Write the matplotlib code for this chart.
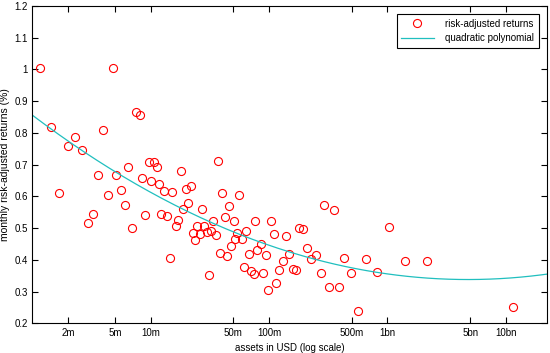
import numpy as np
import matplotlib
matplotlib.use('Agg')
import matplotlib.pyplot as plt

plt.rcParams['font.family'] = ['Liberation Sans', 'DejaVu Sans']

# log10 of assets in USD
log_assets = [6.065, 6.684, 6.874, 6.908, 6.156, 6.600, 6.359, 6.302, 6.422, 6.987,
              7.026, 7.052, 6.809, 6.555, 6.709, 6.930, 7.003, 7.069, 6.228, 6.746,
              6.637, 6.779, 6.509, 6.955, 7.088, 6.473, 6.843, 7.115, 7.141, 7.167,
              7.183, 7.211, 7.232, 7.253, 7.274, 7.295, 7.312, 7.339, 7.356, 7.378,
              7.395, 7.433, 7.567, 7.605, 7.750, 7.661, 7.530, 7.625, 7.701, 7.885,
              8.014, 7.453, 7.413, 7.475, 7.512, 7.549, 7.733, 7.809, 8.039, 7.714,
              7.773, 7.929, 7.680, 7.902, 7.828, 7.976, 7.587, 7.643, 7.792, 7.845,
              7.870, 7.950, 7.489, 8.088, 8.062, 7.994, 8.468, 8.552, 8.139, 8.254,
              8.288, 8.324, 8.172, 8.394, 8.358, 8.637, 8.821, 8.116, 8.198, 8.229,
              8.435, 8.694, 8.911, 8.510, 8.594, 8.750, 9.015, 9.145, 9.331, 10.061]
# monthly risk-adjusted returns (%)
returns = [1.006, 1.006, 0.866, 0.858, 0.820, 0.808, 0.787, 0.758, 0.747, 0.710,
           0.708, 0.692, 0.692, 0.667, 0.667, 0.657, 0.650, 0.639, 0.611, 0.619,
           0.604, 0.572, 0.545, 0.542, 0.546, 0.516, 0.501, 0.617, 0.538, 0.405,
           0.614, 0.508, 0.527, 0.679, 0.559, 0.624, 0.579, 0.634, 0.486, 0.463,
           0.508, 0.559, 0.713, 0.612, 0.604, 0.571, 0.523, 0.534, 0.521, 0.521,
           0.521, 0.507, 0.481, 0.489, 0.492, 0.478, 0.486, 0.491, 0.481, 0.467,
           0.466, 0.451, 0.445, 0.430, 0.420, 0.414, 0.423, 0.411, 0.378, 0.365,
           0.356, 0.360, 0.353, 0.367, 0.328, 0.305, 0.574, 0.556, 0.475, 0.502,
           0.496, 0.438, 0.418, 0.414, 0.403, 0.406, 0.403, 0.395, 0.370, 0.367,
           0.360, 0.360, 0.363, 0.313, 0.315, 0.239, 0.503, 0.396, 0.396, 0.253]

# quadratic polynomial in log10(assets): a*L^2 + b*L + c
poly_coef = [0.03826, -0.7407, 3.923]

xtick_vals = [2e6, 5e6, 1e7, 5e7, 1e8, 5e8, 1e9, 5e9, 1e10]
xtick_labels = ['2m', '5m', '10m', '50m', '100m', '500m', '1bn', '5bn', '10bn']
ytick_vals = [0.2, 0.3, 0.4, 0.5, 0.6, 0.7, 0.8, 0.9, 1.0, 1.1, 1.2]
ytick_labels = ['0.2', '0.3', '0.4', '0.5', '0.6', '0.7', '0.8', '0.9', '1', '1.1', '1.2']

fig = plt.figure(figsize=(5.5, 3.53), dpi=100)
ax = fig.add_axes([0.0587, 0.084, 0.9353, 0.899])

assets = 10 ** np.array(log_assets)
ax.plot(assets, returns, 'o', mfc='none', mec='r', ms=5.8, mew=0.8,
        label='risk-adjusted returns')

xmin, xmax = 1e6, 10 ** 10.345
L = np.linspace(np.log10(xmin), np.log10(xmax), 200)
ax.plot(10 ** L, np.polyval(poly_coef, L), color='#20BFBF', lw=0.9,
        label='quadratic polynomial')

ax.set_xscale('log')
ax.set_xlim(xmin, xmax)
ax.set_ylim(0.2, 1.2)
ax.set_xticks(xtick_vals)
ax.set_xticklabels(xtick_labels)
ax.xaxis.set_minor_locator(matplotlib.ticker.NullLocator())
ax.set_yticks(ytick_vals)
ax.set_yticklabels(ytick_labels)
ax.tick_params(direction='in', top=True, right=True, length=4, width=0.8,
               labelsize=7, pad=3)
for s in ax.spines.values():
    s.set_linewidth(0.8)

ax.set_xlabel('assets in USD (log scale)', fontsize=7, labelpad=4)
ax.set_ylabel('monthly risk-adjusted returns (%)', fontsize=7.5, labelpad=3)

leg = ax.legend(loc='upper right', fontsize=7, frameon=True, fancybox=False,
                edgecolor='black', framealpha=1, handlelength=3.3,
                handletextpad=1.2, borderaxespad=0.8, borderpad=0.5,
                labelspacing=0.45)
leg.get_frame().set_linewidth(0.8)

plt.savefig('out.png')
